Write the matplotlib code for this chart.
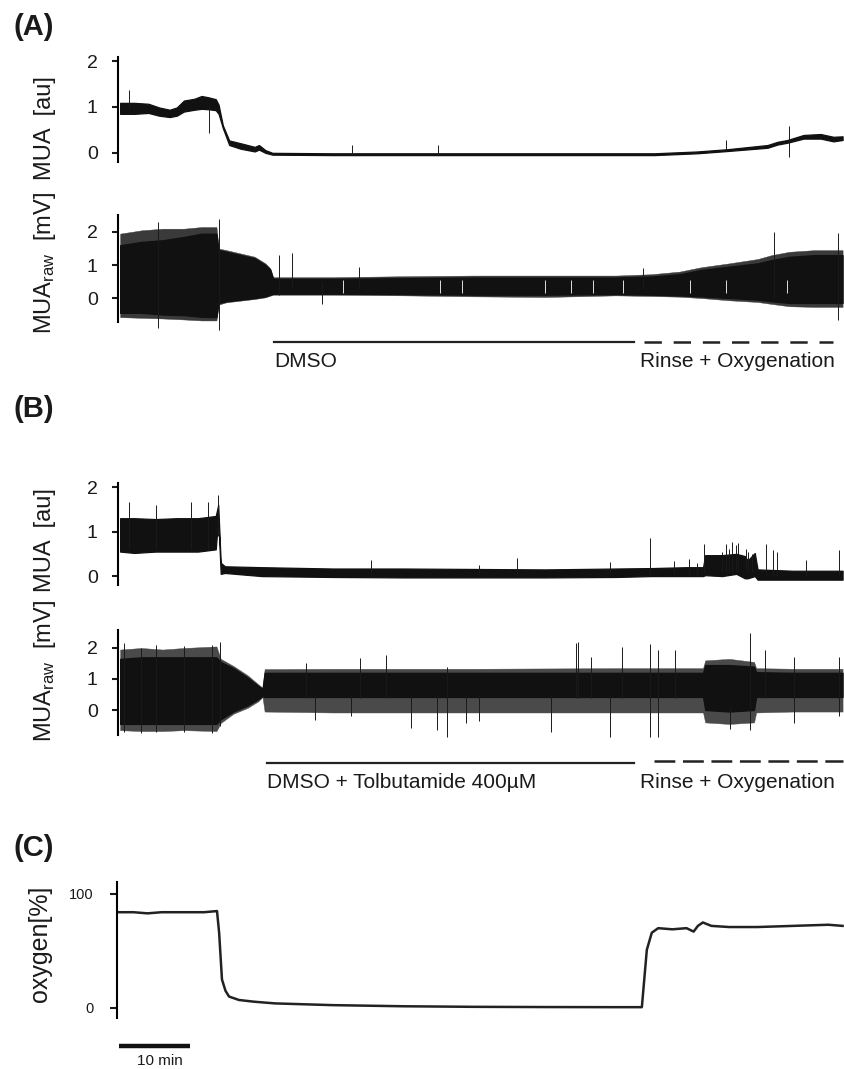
import numpy as np
import matplotlib
matplotlib.use("Agg")
import matplotlib.pyplot as plt
from matplotlib.transforms import blended_transform_factory

plt.rcParams['font.family'] = ['Liberation Sans', 'DejaVu Sans']
plt.rcParams['mathtext.fontset'] = 'custom'
plt.rcParams['mathtext.rm'] = 'Liberation Sans'
plt.rcParams['mathtext.it'] = 'Liberation Sans:italic'
plt.rcParams['lines.scale_dashes'] = False

# ---------------- data (time in minutes) ----------------
# Panel A, MUA [au]: envelope of the trace
a_mua_t = [0, 2, 4, 5.5, 7, 8, 9, 10.5, 11.5, 12.5, 13.5, 13.9, 14.5, 15.4, 17, 19, 19.6,
           20.5, 21.5, 30, 50, 75.4, 81.5, 85.8, 91.4, 92.8, 94.2, 96.5, 98.9, 100.7, 102]
a_mua_hi = [1.09, 1.09, 1.07, 0.99, 0.94, 0.99, 1.14, 1.18, 1.24, 1.21, 1.17, 1.05, 0.60, 0.27,
            0.21, 0.13, 0.17, 0.06, 0.00, -0.01, -0.01, -0.01, 0.03, 0.08, 0.17, 0.24, 0.28,
            0.39, 0.41, 0.35, 0.36]
a_mua_lo = [0.85, 0.85, 0.87, 0.81, 0.78, 0.81, 0.90, 0.94, 0.96, 0.95, 0.93, 0.85, 0.54, 0.17,
            0.09, 0.03, 0.07, 0.00, -0.04, -0.05, -0.05, -0.05, -0.01, 0.04, 0.11, 0.18, 0.22,
            0.31, 0.31, 0.25, 0.28]
a_mua_spk_t = [1.3, 12.6, 32.8, 44.9, 85.5, 94.5]
a_mua_spk_lo = [0.95, 0.43, -0.04, -0.04, 0.05, -0.10]
a_mua_spk_hi = [1.37, 1.00, 0.17, 0.17, 0.28, 0.59]

# Panel A, MUA raw [mV]
a_raw_t = [0, 3, 6, 9, 11.5, 13.6, 13.9, 15, 17, 19, 20.5, 21.2, 21.6, 30, 40, 50, 60, 70,
           75, 79, 82, 86, 90, 92, 94.5, 98, 102]
a_raw_hi = [1.6, 1.7, 1.75, 1.85, 1.95, 1.95, 1.45, 1.4, 1.3, 1.2, 1.0, 0.85, 0.58, 0.58, 0.6,
            0.62, 0.62, 0.62, 0.65, 0.72, 0.85, 0.95, 1.05, 1.15, 1.25, 1.3, 1.3]
a_raw_lo = [-0.45, -0.45, -0.5, -0.52, -0.57, -0.58, -0.15, -0.1, -0.05, 0.0, 0.05, 0.1, 0.13,
            0.13, 0.12, 0.1, 0.1, 0.12, 0.1, 0.08, 0.05, 0.0, -0.05, -0.1, -0.15, -0.15, -0.15]
a_raw_fr_hi = [1.95, 2.05, 2.1, 2.1, 2.15, 2.15, 1.5, 1.45, 1.35, 1.25, 1.05, 0.9, 0.63, 0.63,
               0.66, 0.68, 0.68, 0.68, 0.72, 0.8, 0.93, 1.05, 1.18, 1.3, 1.4, 1.45, 1.45]
a_raw_fr_lo = [-0.58, -0.6, -0.62, -0.65, -0.68, -0.68, -0.2, -0.13, -0.08, -0.03, 0.02, 0.07,
               0.1, 0.1, 0.08, 0.05, 0.03, 0.08, 0.06, 0.04, 0.0, -0.07, -0.12, -0.18, -0.25,
               -0.27, -0.27]
a_raw_spk_t = [5.4, 13.9, 22.4, 24.3, 28.5, 33.7, 73.8, 92.3, 101.3]
a_raw_spk_lo = [-0.9, -0.97, 0.1, 0.3, -0.17, 0.3, 0.3, 0.0, -0.67]
a_raw_spk_hi = [2.3, 2.4, 1.3, 1.35, 0.5, 0.95, 0.9, 2.0, 1.97]
a_raw_gap_t = [31.4, 45.1, 48.2, 60.0, 63.7, 66.8, 71.0, 80.4, 85.6, 94.1]

# Panel B, MUA [au]
b_mua_t = [0, 2, 5, 8, 11, 13.5, 13.85, 14.2, 14.8, 20, 30, 40, 50, 60, 70, 75, 80, 82.3,
           82.6, 85, 87, 88.2, 88.6, 89.6, 90, 95, 102]
b_mua_hi = [1.3, 1.3, 1.28, 1.3, 1.3, 1.35, 1.6, 0.3, 0.22, 0.2, 0.17, 0.17, 0.16, 0.15, 0.17,
            0.18, 0.2, 0.2, 0.47, 0.47, 0.5, 0.45, 0.35, 0.52, 0.15, 0.12, 0.12]
b_mua_lo = [0.55, 0.52, 0.55, 0.55, 0.55, 0.6, 1.3, 0.05, 0.07, 0.0, -0.02, -0.03, -0.03,
            -0.03, -0.02, 0.0, 0.0, 0.0, 0.02, 0.0, 0.05, -0.05, -0.05, 0.0, -0.08, -0.08, -0.08]
b_mua_spk_t = [1.3, 5.0, 10.0, 12.4, 13.8, 35.4, 50.6, 56.1, 69.1, 74.8, 78.2, 80.3, 81.5,
               82.4, 85.0, 85.5, 86.0, 86.4, 86.9, 87.3, 88.3, 88.7, 89.2, 91.2, 92.2, 92.8,
               96.9, 101.5]
b_mua_spk_lo = [0.6, 0.6, 0.6, 0.6, 0.9, 0.05, 0.05, 0.05, 0.05, 0.05, 0.05, 0.05, 0.05, 0.1,
                0.1, 0.1, 0.1, 0.1, 0.1, 0.1, 0.1, 0.1, 0.1, 0.0, 0.0, 0.0, 0.0, 0.0]
b_mua_spk_hi = [1.67, 1.6, 1.67, 1.67, 1.82, 0.36, 0.25, 0.4, 0.32, 0.85, 0.33, 0.38, 0.3,
                0.72, 0.55, 0.72, 0.6, 0.77, 0.7, 0.75, 0.6, 0.55, 0.5, 0.72, 0.58, 0.55,
                0.36, 0.58]

# Panel B, MUA raw [mV]
b_raw_t = [0, 3, 6, 9, 13.6, 14.2, 16, 18, 19.5, 20.1, 20.4, 30, 50, 70, 80, 82.3, 82.6, 86,
           89.5, 89.8, 95, 102]
b_raw_hi = [1.65, 1.7, 1.7, 1.7, 1.7, 1.55, 1.35, 1.05, 0.78, 0.68, 1.2, 1.2, 1.2, 1.2, 1.2,
            1.2, 1.45, 1.45, 1.4, 1.22, 1.2, 1.2]
b_raw_lo = [-0.45, -0.45, -0.45, -0.45, -0.45, -0.3, -0.05, 0.15, 0.35, 0.45, 0.42, 0.42, 0.42,
            0.42, 0.42, 0.42, 0.0, -0.05, 0.0, 0.42, 0.42, 0.42]
b_raw_fr_hi = [1.95, 2.0, 1.95, 2.0, 2.05, 1.65, 1.42, 1.12, 0.83, 0.72, 1.32, 1.33, 1.33, 1.35,
               1.35, 1.35, 1.6, 1.65, 1.55, 1.35, 1.33, 1.33]
b_raw_fr_lo = [-0.65, -0.68, -0.68, -0.65, -0.68, -0.42, -0.12, 0.07, 0.28, 0.42, -0.05,
               -0.08, -0.08, -0.08, -0.08, -0.08, -0.4, -0.45, -0.4, -0.08, -0.05, -0.05]
b_raw_spk_t = [0.5, 3.0, 5.0, 9.0, 13.0, 14.1, 26.3, 27.5, 32.6, 33.8, 37.6, 41.1, 44.7, 46.2,
               48.9, 50.7, 60.8, 64.3, 64.7, 66.5, 69.1, 70.9, 74.8, 76.0, 78.3, 86.1, 88.9,
               91.1, 95.2, 101.5]
b_raw_spk_lo = [-0.7, -0.75, -0.7, -0.7, -0.75, -0.5, 0.4, -0.32, -0.2, 0.4, 0.4, -0.58, -0.65,
                -0.86, -0.43, -0.35, -0.7, 0.4, 0.4, 0.4, -0.86, 0.4, -0.86, -0.86, 0.4, -0.6,
                -0.65, 0.4, -0.43, -0.2]
b_raw_spk_hi = [2.15, 2.0, 2.1, 2.05, 2.1, 2.2, 1.5, 0.45, 0.45, 1.68, 1.77, 0.45, 0.45, 1.4,
                0.45, 0.45, 0.45, 2.17, 2.2, 1.7, 0.45, 2.04, 2.13, 1.94, 1.94, 0.1, 2.47, 1.94,
                1.72, 1.72]

# Panel C, oxygen [%]
oxy_t = [0, 2, 4, 6, 8, 10, 12, 13.8, 14.1, 14.5, 15.0, 15.5, 16.9, 19, 22, 30, 40, 50, 60,
         70, 73.7, 74.4, 75.1, 76, 78, 80, 81.0, 81.6, 82.3, 83.5, 86, 90, 95, 100, 102]
oxy_v = [84, 84, 83, 84, 84, 84, 84, 85, 66, 25, 15, 10, 7, 5.5, 4, 2.5, 1.5, 1, 0.8, 0.7,
         0.7, 51, 66, 70, 69, 70, 67, 72, 75, 72, 71, 71, 72, 73, 72]

# Treatment periods (min) and labels
a_solid = (21.7, 72.5)
a_dashed = (73.9, 100.7)
b_solid = (20.7, 72.5)
b_dashed = (75.4, 102.0)
a_solid_label = "DMSO"
b_solid_label = "DMSO + Tolbutamide 400µM"
dashed_label = "Rinse + Oxygenation"
scalebar_min = 10

# ---------------- figure ----------------
W, H = 844, 1069
fig = plt.figure(figsize=(W / 100, H / 100), dpi=100)


def fx(px):
    return px / W


def fy(py):
    return 1 - py / H


def make_ax(x0, y_top, y_bot, ylim, yticks, ticklabels, fs, tlen=4.5, pad=10):
    ax = fig.add_axes([fx(x0), fy(y_bot), fx(W) - fx(x0), (y_bot - y_top) / H])
    ax.set_xlim(-0.3, 102.2)
    ax.set_ylim(*ylim)
    for s in ['top', 'right', 'bottom']:
        ax.spines[s].set_visible(False)
    ax.spines['left'].set_linewidth(1.5)
    ax.set_xticks([])
    ax.set_yticks(yticks)
    ax.set_yticklabels(ticklabels)
    ax.tick_params(axis='y', direction='out', length=tlen, width=1.5, pad=pad,
                   labelsize=fs, colors='#1a1a1a')
    ax.patch.set_alpha(0)
    return ax


def band(ax, t, lo, hi, color='#111111', lw=0.9):
    ax.fill_between(t, lo, hi, color=color, lw=lw, edgecolor=color, clip_on=False)


def spikes(ax, t, lo, hi, color='#1a1a1a', lw=0.7):
    ax.vlines(t, lo, hi, colors=color, lw=lw, clip_on=False)


ax_a1 = make_ax(118, 57, 162, (-0.2, 2.09), [0, 1, 2], ['0', '1', '2'], 14)
ax_a2 = make_ax(118, 215, 322, (-0.727, 2.515), [0, 1, 2], ['0', '1', '2'], 14)
ax_b1 = make_ax(118, 483, 585, (-0.2, 2.09), [0, 1, 2], ['0', '1', '2'], 14)
ax_b2 = make_ax(118, 630, 735, (-0.806, 2.58), [0, 1, 2], ['0', '1', '2'], 14)
ax_c = make_ax(117, 882, 1018, (-8.8, 110.5), [0, 100], ['0', '100'], 10.5, tlen=5, pad=12)

# Panel A
band(ax_a1, a_mua_t, a_mua_lo, a_mua_hi)
spikes(ax_a1, a_mua_spk_t, a_mua_spk_lo, a_mua_spk_hi)
band(ax_a2, a_raw_t, a_raw_fr_lo, a_raw_fr_hi, color='#3a3a3a', lw=0.3)
band(ax_a2, a_raw_t, a_raw_lo, a_raw_hi)
spikes(ax_a2, a_raw_spk_t, a_raw_spk_lo, a_raw_spk_hi)
ax_a2.vlines(a_raw_gap_t, 0.15, 0.55, colors='white', lw=0.6)

# Panel B
band(ax_b1, b_mua_t, b_mua_lo, b_mua_hi)
spikes(ax_b1, b_mua_spk_t, b_mua_spk_lo, b_mua_spk_hi)
band(ax_b2, b_raw_t, b_raw_fr_lo, b_raw_fr_hi, color='#4a4a4a', lw=0.3)
band(ax_b2, b_raw_t, b_raw_lo, b_raw_hi)
spikes(ax_b2, b_raw_spk_t, b_raw_spk_lo, b_raw_spk_hi)

# Panel C
ax_c.plot(oxy_t, oxy_v, color='#222222', lw=1.8, clip_on=False)

# Treatment bars and labels
trA = blended_transform_factory(ax_a2.transData, fig.transFigure)
trB = blended_transform_factory(ax_b2.transData, fig.transFigure)
ax_a2.plot(a_solid, [fy(342)] * 2, transform=trA, color='#222222', lw=1.6, clip_on=False)
ax_a2.plot(a_dashed, [fy(342)] * 2, transform=trA, color='#222222', lw=1.8,
           dashes=(12.5, 8.5), clip_on=False)
ax_b2.plot(b_solid, [fy(763)] * 2, transform=trB, color='#222222', lw=1.6, clip_on=False)
ax_b2.plot(b_dashed, [fy(761)] * 2, transform=trB, color='#222222', lw=1.8,
           dashes=(15, 5.5), clip_on=False)
ax_a2.text(a_solid[0] + 0.1, fy(362), a_solid_label, transform=trA, fontsize=15,
           ha='left', va='center', color='#1a1a1a')
ax_a2.text(73.4, fy(362), dashed_label, transform=trA, fontsize=15,
           ha='left', va='center', color='#1a1a1a')
ax_b2.text(b_solid[0] + 0.1, fy(782), b_solid_label, transform=trB, fontsize=15,
           ha='left', va='center', color='#1a1a1a')
ax_b2.text(73.4, fy(782), dashed_label, transform=trB, fontsize=15,
           ha='left', va='center', color='#1a1a1a')

# Scale bar
trC = blended_transform_factory(ax_c.transData, fig.transFigure)
ax_c.plot([0, scalebar_min], [fy(1046)] * 2, transform=trC, color='#111111', lw=3.2,
          solid_capstyle='butt', clip_on=False)
ax_c.text(scalebar_min / 2 + 0.7, fy(1061), f"{scalebar_min} min", transform=trC,
          fontsize=11, ha='center', va='center', color='#1a1a1a')

# Y labels
fig.text(fx(45), fy(128), "MUA  [au]", rotation=90, fontsize=17, ha='center', va='center',
         color='#1a1a1a')
fig.text(fx(45), fy(263), r"MUA$_{\mathrm{raw}}$  [mV]", rotation=90, fontsize=17,
         ha='center', va='center', color='#1a1a1a')
fig.text(fx(45), fy(540), "MUA  [au]", rotation=90, fontsize=17, ha='center', va='center',
         color='#1a1a1a')
fig.text(fx(45), fy(671), r"MUA$_{\mathrm{raw}}$  [mV]", rotation=90, fontsize=17,
         ha='center', va='center', color='#1a1a1a')
fig.text(fx(40), fy(944), "oxygen[%]", rotation=90, fontsize=18, ha='center', va='center',
         color='#1a1a1a')

# Panel letters
for lab, py in [("(A)", 27), ("(B)", 409), ("(C)", 848)]:
    fig.text(fx(34), fy(py), lab, fontsize=21, fontweight='bold', ha='center', va='center',
             color='#1a1a1a')

fig.savefig("out.png", dpi=100)
